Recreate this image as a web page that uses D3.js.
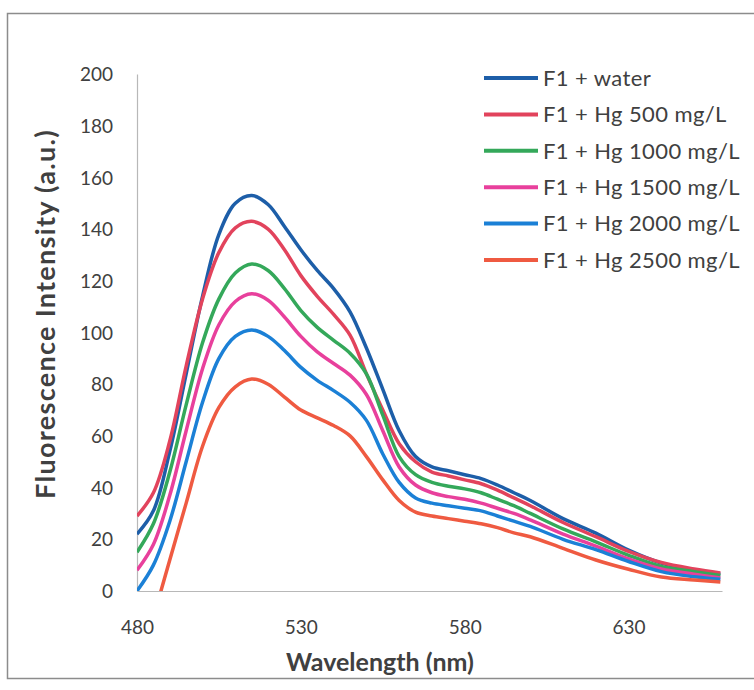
<!DOCTYPE html>
<html>
<head>
<meta charset="utf-8">
<script src="https://cdn.jsdelivr.net/npm/d3@7"></script>
<style>
  body { margin: 0; background: #fff; }
  text { font-family: Lato, "Open Sans", sans-serif; fill: #404040; }
</style>
</head>
<body>
<svg id="chart"></svg>
<script>
const wavelengths = [480, 485, 490, 495, 500, 505, 510, 515, 520, 525, 530, 535, 540, 545, 550, 555, 560, 565, 570, 575, 580, 585, 590, 595, 600, 610, 620, 630, 640, 650, 658];

const water   = [22, 31, 54, 84, 114, 138, 150, 153, 149.5, 141, 132, 124, 117, 108, 94, 78, 62, 52, 48, 46.5, 45, 43.5, 41, 38, 35, 28, 22.4, 15.8, 10.8, 8, 6.5];
const hg500   = [29, 38, 58, 87, 113, 131, 140.5, 143, 140, 132, 122, 114, 107, 99, 84, 70, 57, 50, 46, 44.5, 43, 41.5, 39, 36, 33, 26.5, 21, 15.3, 11, 8.5, 7];
const hg1000  = [15, 26, 46, 72, 96, 113, 123, 126.5, 124, 117, 108.5, 102, 97, 92, 84, 68, 52, 45, 42, 40.5, 39.5, 38, 35.5, 33, 30, 24, 19, 13.8, 9.5, 7.5, 6];
const hg1500  = [8, 18, 37, 62, 86, 103, 112, 115, 112.5, 106, 98.5, 92.5, 88, 83.5, 76, 62, 48, 41, 38, 36.5, 35.5, 34, 32, 30, 27.5, 22, 17.4, 12.4, 8.5, 6.5, 5];
const hg2000  = [0, 10, 27, 50, 73, 90, 98.5, 101, 98.5, 93, 86.5, 81.5, 77.5, 73, 66, 53, 42, 36, 34, 33, 32, 31, 29, 27, 25, 20, 16, 11.4, 7.5, 5.5, 4.5];
const hg2500  = [-30, -10, 12, 34, 56, 71, 79, 82, 80, 75, 70, 67, 64, 60, 52, 43, 35, 30.5, 29, 28, 27, 26, 24.5, 22.5, 21, 16.5, 12, 8.4, 5.4, 4.3, 3.5];

const seriesNames = ["F1 + water", "F1 + Hg 500 mg/L", "F1 + Hg 1000 mg/L", "F1 + Hg 1500 mg/L", "F1 + Hg 2000 mg/L", "F1 + Hg 2500 mg/L"];
const seriesValues = [water, hg500, hg1000, hg1500, hg2000, hg2500];
const colors = ["#1d5ea8", "#e2435c", "#34a85a", "#e8409c", "#1b80d6", "#ef5a41"];

const xTicks = [480, 530, 580, 630];
const yTicks = [0, 20, 40, 60, 80, 100, 120, 140, 160, 180, 200];

const width = 754, height = 690;
const margin = { left: 137, right: 32, top: 74, bottom: 99 };

const svg = d3.select("#chart").attr("width", width).attr("height", height);

// outer frame
svg.append("rect")
  .attr("x", 7.5).attr("y", 13.5)
  .attr("width", 770).attr("height", 665)
  .attr("fill", "none").attr("stroke", "#8c8c8c").attr("stroke-width", 1.5);

const x = d3.scaleLinear().domain([480, 658.5]).range([margin.left, width - margin.right]);
const y = d3.scaleLinear().domain([0, 200]).range([height - margin.bottom, margin.top]);

svg.append("defs").append("clipPath").attr("id", "plot")
  .append("rect")
  .attr("x", margin.left).attr("y", margin.top - 5)
  .attr("width", width - margin.right - margin.left + 5)
  .attr("height", height - margin.bottom - margin.top + 5);

// axes
const xAxis = d3.axisBottom(x).tickValues(xTicks).tickSize(0).tickPadding(30).tickFormat(d3.format("d"));
const yAxis = d3.axisLeft(y).tickValues(yTicks).tickSize(0).tickPadding(24);

const gx = svg.append("g").attr("transform", "translate(0," + y(0) + ")").call(xAxis);
const gy = svg.append("g").attr("transform", "translate(" + margin.left + ",0)").call(yAxis);

[gx, gy].forEach(g => {
  g.select(".domain").attr("stroke", "#b8b8b8").attr("stroke-width", 1.2);
  g.selectAll("text").style("font-size", "19px").attr("fill", "#404040");
});
gy.selectAll(".tick text").attr("dy", "0.35em");

// curves
const line = d3.line()
  .x((d, i) => x(wavelengths[i]))
  .y(d => y(d))
  .curve(d3.curveCatmullRom.alpha(0.5));

svg.append("g").attr("clip-path", "url(#plot)")
  .selectAll("path")
  .data(seriesValues)
  .enter()
  .append("path")
  .attr("d", line)
  .attr("fill", "none")
  .attr("stroke", (d, i) => colors[i])
  .attr("stroke-width", 3.5)
  .attr("stroke-linejoin", "round");

// axis titles
svg.append("text")
  .attr("x", 380)
  .attr("y", 671)
  .attr("text-anchor", "middle")
  .style("font-size", "25px").style("font-weight", "bold")
  .text("Wavelength (nm)");

svg.append("text")
  .attr("transform", "translate(55," + 314 + ") rotate(-90)")
  .attr("text-anchor", "middle")
  .style("font-size", "27px").style("font-weight", "bold")
  .style("letter-spacing", "1.3px")
  .text("Fluorescence Intensity (a.u.)");

// legend
const legend = svg.append("g");
seriesNames.forEach((name, i) => {
  const ly = 78 + i * 36.4;
  legend.append("line")
    .attr("x1", 484).attr("x2", 538)
    .attr("y1", ly).attr("y2", ly)
    .attr("stroke", colors[i]).attr("stroke-width", 4);
  legend.append("text")
    .attr("x", 543).attr("y", ly)
    .attr("dy", "0.35em")
    .style("font-size", "22px")
    .style("letter-spacing", "0.4px")
    .attr("fill", "#333")
    .text(name);
});
</script>
</body>
</html>
